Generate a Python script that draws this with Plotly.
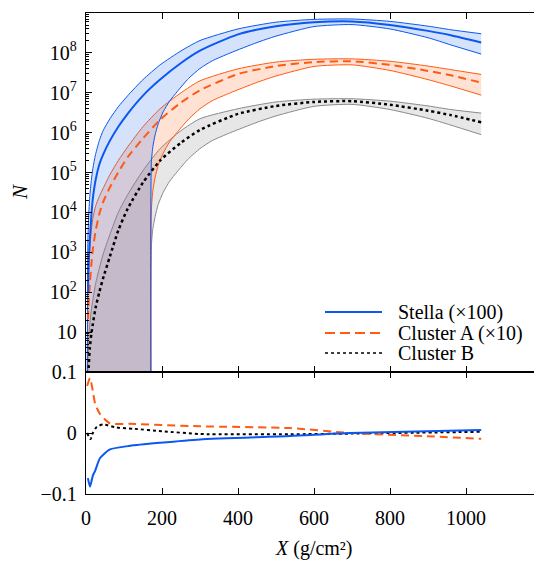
import plotly.graph_objects as go

# ---------------- data ----------------
# Top panel values are read as log10(N) of each model *before* the display scaling
# given in the legend (Stella x100, Cluster A x10, Cluster B x1).
# -3 marks "no particles" (drawn below the axis floor).
x_c = [5, 7, 10, 14, 18, 25, 35, 45, 63, 85, 110, 150, 195, 250, 300, 400, 500, 600, 700, 800, 900, 960, 1040]
stella_log = [0.0, 0.7, 1.3, 1.9, 2.35, 2.8, 3.2, 3.45, 3.8, 4.15, 4.48, 4.93, 5.33, 5.745, 6.055,
              6.465, 6.666, 6.768, 6.79, 6.702, 6.552, 6.443, 6.262]
clA_log = [0.33, 0.74, 1.19, 1.68, 2.08, 2.52, 2.96, 3.26, 3.63, 4.01, 4.39, 4.855, 5.325, 5.755, 6.065,
           6.47, 6.67, 6.77, 6.79, 6.70, 6.548, 6.437, 6.256]
clB_log = [-0.5, 0.1, 0.6, 0.95, 1.2, 1.6, 2.0, 2.35, 2.9, 3.55, 4.1, 4.75, 5.3, 5.75, 6.07,
           6.47, 6.67, 6.77, 6.79, 6.70, 6.55, 6.44, 6.26]

# upper edge of the spread band
x_up = [3, 5, 7, 10, 14, 18, 25, 35, 45, 63, 85, 110, 150, 195, 250, 300, 400, 500, 600, 700, 800, 900, 960, 1040]
stella_up_log = [-3, 1.30, 1.90, 2.40, 2.80, 3.10, 3.45, 3.80, 4.05, 4.35, 4.65, 4.93, 5.33, 5.70, 6.05, 6.31,
                 6.60, 6.77, 6.84, 6.85, 6.79, 6.67, 6.58, 6.48]
clA_up_log = [-3, 1.00, 1.60, 2.10, 2.55, 2.85, 3.15, 3.40, 3.60, 3.95, 4.30, 4.65, 5.15, 5.60, 6.00, 6.30,
              6.60, 6.77, 6.84, 6.85, 6.79, 6.67, 6.58, 6.46]
clB_up_log = [-3, 0.30, 0.80, 1.20, 1.55, 1.80, 2.20, 2.60, 2.95, 3.45, 4.00, 4.45, 5.05, 5.60, 6.05, 6.35,
              6.60, 6.77, 6.84, 6.85, 6.79, 6.67, 6.58, 6.49]

# lower edge of the spread band (zero below X = 171)
x_lo = [171, 172, 176, 182, 190, 203, 220, 240, 270, 300, 332, 380, 450, 500, 600, 700, 800, 900, 960, 1040]
stella_lo_log = [-3, 3.25, 3.65, 3.95, 4.22, 4.52, 4.79, 5.03, 5.36, 5.61, 5.80, 6.00, 6.26, 6.42, 6.66, 6.71,
                 6.60, 6.38, 6.20, 5.97]
clA_lo_log = [-3, 3.05, 3.55, 3.88, 4.18, 4.48, 4.77, 5.01, 5.34, 5.60, 5.80, 6.00, 6.26, 6.42, 6.66, 6.70,
              6.56, 6.33, 6.17, 5.94]
clB_lo_log = [-3, 3.13, 3.60, 3.90, 4.20, 4.50, 4.78, 5.02, 5.35, 5.60, 5.80, 6.00, 6.26, 6.42, 6.66, 6.71,
              6.58, 6.36, 6.19, 5.95]

scale = {"stella": 100, "clA": 10, "clB": 1}

# Bottom panel: relative difference
d_stella_x = [5, 10.5, 18, 24, 37, 63, 116, 195, 300, 537, 695, 1040]
d_stella_y = [-0.074, -0.088, -0.07, -0.062, -0.041, -0.027, -0.021, -0.016, -0.0105, -0.005, 0.0, 0.005]
d_clA_x = [3, 10.5, 18, 24, 37, 63, 116, 300, 537, 695, 887, 1040]
d_clA_y = [0.077, 0.09, 0.069, 0.048, 0.031, 0.016, 0.015, 0.011, 0.008, 0.0, -0.005, -0.0095]
d_clB_x = [3, 12, 18, 28, 45, 80, 124, 200, 300, 537, 695, 1040]
d_clB_y = [0.0, -0.01, 0.0, 0.01, 0.014, 0.009, 0.007, 0.003, -0.0016, -0.002, -0.001, 0.002]

y_tickvals = [1, 10, 1e2, 1e3, 1e4, 1e5, 1e6, 1e7, 1e8, 1e9]
y_ticktext = ["0.1", "10", "10<sup>2</sup>", "10<sup>3</sup>", "10<sup>4</sup>", "10<sup>5</sup>",
              "10<sup>6</sup>", "10<sup>7</sup>", "10<sup>8</sup>", "10<sup>9</sup>"]
x_tickvals = [0, 200, 400, 600, 800, 1000]
legend_labels = ["Stella (×100)", "Cluster A (×10)", "Cluster B"]

# ---------------- styles ----------------
BLUE = "#0b57f2"
ORANGE = "#ff5a14"
GRAY = "#8a8a8a"
FONT = "Liberation Serif"
SPL = dict(shape="spline", smoothing=0.6)

def to_n(logs, s):
    return [s * 10 ** v for v in logs]

fig = go.Figure()

def band(lo_x, lo_y, up_x, up_y, line_col, fill_col):
    fig.add_trace(go.Scatter(x=lo_x, y=lo_y, mode="lines", line=dict(color=line_col, width=1, **SPL),
                             showlegend=False, hoverinfo="skip", xaxis="x", yaxis="y"))
    fig.add_trace(go.Scatter(x=up_x, y=up_y, mode="lines", line=dict(color=line_col, width=1, **SPL),
                             fill="tonexty", fillcolor=fill_col, showlegend=False, hoverinfo="skip",
                             xaxis="x", yaxis="y"))

band(x_lo, to_n(clB_lo_log, scale["clB"]), x_up, to_n(clB_up_log, scale["clB"]), GRAY, "rgba(120,120,120,0.18)")
band(x_lo, to_n(clA_lo_log, scale["clA"]), x_up, to_n(clA_up_log, scale["clA"]), ORANGE, "rgba(255,110,40,0.2)")
band(x_lo, to_n(stella_lo_log, scale["stella"]), x_up, to_n(stella_up_log, scale["stella"]), BLUE,
     "rgba(40,110,240,0.2)")

fig.add_trace(go.Scatter(x=x_c, y=to_n(clB_log, scale["clB"]), mode="lines", name=legend_labels[2],
                         line=dict(color="black", width=2.5, dash="3px,3px", **SPL), xaxis="x", yaxis="y"))
fig.add_trace(go.Scatter(x=x_c, y=to_n(clA_log, scale["clA"]), mode="lines", name=legend_labels[1],
                         line=dict(color=ORANGE, width=2, dash="8px,5px", **SPL), xaxis="x", yaxis="y"))
fig.add_trace(go.Scatter(x=x_c, y=to_n(stella_log, scale["stella"]), mode="lines", name=legend_labels[0],
                         line=dict(color=BLUE, width=2, **SPL), xaxis="x", yaxis="y"))

# bottom panel
fig.add_trace(go.Scatter(x=d_clB_x, y=d_clB_y, mode="lines", showlegend=False,
                         line=dict(color="black", width=2, dash="3px,3px", **SPL), xaxis="x2", yaxis="y2"))
fig.add_trace(go.Scatter(x=d_clA_x, y=d_clA_y, mode="lines", showlegend=False,
                         line=dict(color=ORANGE, width=2, dash="8px,5px", **SPL), xaxis="x2", yaxis="y2"))
fig.add_trace(go.Scatter(x=d_stella_x, y=d_stella_y, mode="lines", showlegend=False,
                         line=dict(color=BLUE, width=2, **SPL), xaxis="x2", yaxis="y2"))

# manual legend + axis titles (paper coords derived from the plot-area pixel box of the reference)
L, R_, T, B = 86, 542, 13, 494
def px_x(p): return (p - L) / (R_ - L)
def px_y(p): return (B - p) / (B - T)
rows = [312, 333, 353]
styles = [dict(color=BLUE, width=2), dict(color=ORANGE, width=2, dash="10px,5px"),
          dict(color="black", width=1.5, dash="3px,3px")]
for r, st, lab in zip(rows, styles, legend_labels):
    fig.add_shape(type="line", xref="paper", yref="paper", x0=px_x(325), x1=px_x(382),
                  y0=px_y(r), y1=px_y(r), line=st)
    fig.add_annotation(xref="paper", yref="paper", x=px_x(396), y=px_y(r), text=lab,
                       showarrow=False, xanchor="left", yanchor="middle",
                       font=dict(family=FONT, size=20, color="black"))
fig.add_annotation(xref="paper", yref="paper", x=px_x(314), y=px_y(548), text="<i>X</i> (g/cm²)",
                   showarrow=False, xanchor="center", yanchor="middle",
                   font=dict(family=FONT, size=20, color="black"))
fig.add_annotation(xref="paper", yref="paper", x=px_x(20), y=px_y(192), text="<i>N</i>",
                   showarrow=False, xanchor="center", yanchor="middle", textangle=-90,
                   font=dict(family=FONT, size=21, color="black"))

split = (B - 372) / (B - T)
axis_common = dict(showline=True, linecolor="black", linewidth=1.3, mirror="ticks", ticks="inside",
                   tickcolor="black", tickwidth=1.2, showgrid=False, zeroline=False, automargin=False,
                   tickfont=dict(family=FONT, size=20, color="black"))

# The page body adds an 8 px offset, so the figure is 8 px smaller and margins shifted accordingly.
OFF = 8
fig.update_layout(
    width=542 - OFF, height=563 - OFF,
    margin=dict(l=L - OFF, r=0, t=T - OFF, b=563 - B),
    paper_bgcolor="white", plot_bgcolor="white",
    showlegend=False,
    font=dict(family=FONT, size=20, color="black"),
    xaxis=dict(domain=[0, 1], range=[0, 1200], anchor="y", tickvals=x_tickvals, ticklen=6,
               showticklabels=False, **axis_common),
    yaxis=dict(domain=[split, 1], type="log", range=[0, 9], anchor="x", tickvals=y_tickvals,
               ticktext=y_ticktext, ticklen=6, ticklabelstandoff=4,
               minor=dict(ticks="inside", ticklen=3, tickcolor="black", dtick="D1"),
               **axis_common),
    xaxis2=dict(domain=[0, 1], range=[0, 1200], anchor="y2", matches="x", tickvals=x_tickvals,
                ticklen=6, ticklabelstandoff=6, **axis_common),
    yaxis2=dict(domain=[0, split], range=[-0.1, 0.1], anchor="x2", tickvals=[-0.1, 0, 0.1],
                ticktext=["−0.1", "0", ""], ticklen=6, ticklabelstandoff=4, **axis_common),
)

fig.write_html("out.html")
